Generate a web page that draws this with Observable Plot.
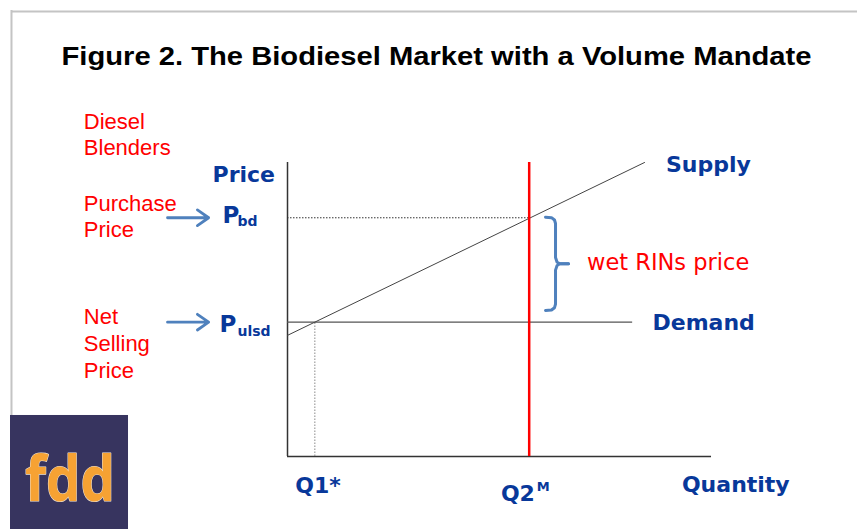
<!DOCTYPE html>
<html><head><meta charset="utf-8">
<script src="https://cdn.jsdelivr.net/npm/d3@7"></script>
<script src="https://cdn.jsdelivr.net/npm/@observablehq/plot@0.6"></script>
<style>html,body{margin:0;padding:0;background:#fff;}</style>
</head><body><div id="chart"></div>
<script>
// ---- chart values (data units: quantity and price, axes run 0..100) ----
const title = "Figure 2. The Biodiesel Market with a Volume Mandate";
const axisMax = 100;
const priceSubs = ["bd", "ulsd"];          // P_bd, P_ulsd
const priceValues = [81.2, 45.7];          // purchase price, net selling price
const quantityNames = ["Q1*", "Q2"];
const quantitySup = ["", "M"];
const quantityValues = [6.45, 57];         // equilibrium Q1*, mandate Q2^M
const supplyQ = [0, 84.2];
const supplyP = [41.2, 100];
const demandEnd = 81.4;
const sideLabels = ["Diesel\nBlenders", "Purchase\nPrice", "Net\nSelling\nPrice"];
const curveLabels = ["Supply", "Demand"];
const axisLabels = ["Price", "Quantity"];
const rinLabel = "wet RINs price";
const logoText = "fdd";

const BLUE = "#08389a", RED = "#ff0000", STEEL = "#4f81bd";
const SANS_B = "DejaVu Sans, Verdana, sans-serif";
const ARIAL = "Liberation Sans, Arial, sans-serif";

const supply = supplyQ.map((q, i) => ({q, p: supplyP[i]}));

// brace between the two price levels, right of the mandate line
const bq = quantityValues[1];
const bTop = priceValues[0] + 0.2, bBot = priceValues[1] + 3.96, bMid = (bTop + bBot) / 2;
const upper = [[bq + 3.85, bTop], [bq + 5.26, bTop - 0.17], [bq + 5.97, bTop - 0.95], [bq + 6.21, bTop - 2.15],
               [bq + 6.21, bMid + 2.15], [bq + 6.56, bMid + 0.6], [bq + 7.15, bMid], [bq + 9.27, bMid]];
const brace = [
  ...upper.map(([q, p]) => ({q, p, half: "u"})),
  ...upper.map(([q, p]) => ({q, p: 2 * bMid - p, half: "l"}))
];

const txt = (data, o) => Plot.text(data, {textAnchor: "start", lineAnchor: "bottom", ...o});

const chart = Plot.plot({
  width: 857, height: 529, margin: 0,
  x: {domain: [-67.69, 134.43], axis: null},
  y: {domain: [-24.83, 155.10], axis: null},
  style: {background: "#fff", overflow: "visible"},
  marks: [
    // slide frame
    Plot.ruleY([151.36], {x1: -65.1, x2: 134.43, stroke: "#c4c4c4", strokeWidth: 2}),
    Plot.ruleX([-65.1], {y1: 13.95, y2: 151.7, stroke: "#c4c4c4", strokeWidth: 2}),
    // logo
    Plot.rect([0], {x1: -65.33, x2: -37.5, y1: -24.83, y2: 13.95, fill: "#37345f"}),
    Plot.text([logoText], {x: -51.3, y: -14.97, textAnchor: "middle", lineAnchor: "bottom", fontSize: 62,
      fontFamily: "Open Sans, sans-serif", fontWeight: 700, fill: "#f6a233", stroke: "#efe3d2", strokeWidth: 1.2}),
    // axes
    Plot.ruleX([0], {y1: 0, y2: axisMax, stroke: "#333", strokeWidth: 1.5}),
    Plot.ruleY([0], {x1: 0, x2: axisMax, stroke: "#333", strokeWidth: 1.5}),
    // guides
    Plot.ruleY([priceValues[0]], {x1: 0, x2: quantityValues[1], stroke: "#333", strokeWidth: 1, strokeDasharray: "1.5,1.5"}),
    Plot.ruleX([quantityValues[0]], {y1: 0, y2: priceValues[1], stroke: "#888", strokeWidth: 1, strokeDasharray: "1.5,1.5"}),
    // demand & supply
    Plot.ruleY([priceValues[1]], {x1: 0, x2: demandEnd, stroke: "#555", strokeWidth: 1.4}),
    Plot.line(supply, {x: "q", y: "p", stroke: "#444", strokeWidth: 1}),
    // mandate
    Plot.ruleX([quantityValues[1]], {y1: 0, y2: axisMax, stroke: RED, strokeWidth: 2.5}),
    // brace
    Plot.line(brace, {x: "q", y: "p", z: "half", stroke: STEEL, strokeWidth: 3, strokeLinejoin: "round", strokeLinecap: "round"}),
    // arrows to price levels
    Plot.arrow(priceValues, {x1: -28.3, x2: -18.6, y1: d => d, y2: d => d, stroke: STEEL, strokeWidth: 2.8, headLength: 9, headAngle: 70}),
    // title
    txt([title], {x: -53.3, y: 133.23, fontSize: 26, fontWeight: "bold", fontFamily: ARIAL, fill: "#000"}),
    // red side labels
    txt([sideLabels[0]], {x: -48.04, y: 102.38, fontSize: 22, lineHeight: 1.21, fontFamily: ARIAL, fill: RED}),
    txt([sideLabels[1]], {x: -48.04, y: 74.59, fontSize: 22, lineHeight: 1.21, fontFamily: ARIAL, fill: RED}),
    txt([sideLabels[2]], {x: -48.04, y: 26.87, fontSize: 22, lineHeight: 1.21, fontFamily: ARIAL, fill: RED}),
    txt([rinLabel], {x: 70.64, y: 63.27, fontSize: 22.5, fontFamily: SANS_B, fill: RED}),
    // blue labels
    txt([axisLabels[0]], {x: -17.69, y: 93.3, fontSize: 22, fontWeight: "bold", fontFamily: SANS_B, fill: BLUE}),
    txt([axisLabels[1]], {x: 93.02, y: -12.14, fontSize: 22, fontWeight: "bold", fontFamily: SANS_B, fill: BLUE}),
    txt([curveLabels[0]], {x: 89.27, y: 96.6, fontSize: 22, fontWeight: "bold", fontFamily: SANS_B, fill: BLUE}),
    txt([curveLabels[1]], {x: 86.08, y: 42.86, fontSize: 22, fontWeight: "bold", fontFamily: SANS_B, fill: BLUE}),
    txt(["P"], {x: -15.33, y: 79.49, fontSize: 23, fontWeight: "bold", fontFamily: SANS_B, fill: BLUE}),
    txt([priceSubs[0]], {x: -11.79, y: 78.57, fontSize: 14, fontWeight: "bold", fontFamily: SANS_B, fill: BLUE}),
    txt(["P"], {x: -16.04, y: 42.28, fontSize: 23, fontWeight: "bold", fontFamily: SANS_B, fill: BLUE}),
    txt([priceSubs[1]], {x: -11.79, y: 40.92, fontSize: 14, fontWeight: "bold", fontFamily: SANS_B, fill: BLUE}),
    txt([quantityNames[0]], {x: 1.82, y: -12.48, fontSize: 22, fontWeight: "bold", fontFamily: SANS_B, fill: BLUE}),
    txt([quantityNames[1]], {x: 50.33, y: -14.97, fontSize: 22, fontWeight: "bold", fontFamily: SANS_B, fill: BLUE}),
    txt([quantitySup[1]], {x: 58.8, y: -11.8, fontSize: 13, fontWeight: "bold", fontFamily: SANS_B, fill: BLUE})
  ]
});
document.getElementById("chart").append(chart);

// stretch title and logo to the widths they occupy in the reference
for (const t of chart.querySelectorAll("text")) {
  if (t.textContent === title) { t.setAttribute("textLength", 750); t.setAttribute("lengthAdjust", "spacingAndGlyphs"); }
  if (t.textContent === logoText) { t.setAttribute("textLength", 90); t.setAttribute("lengthAdjust", "spacingAndGlyphs"); t.style.paintOrder = "stroke"; }
}
</script>
</body></html>
